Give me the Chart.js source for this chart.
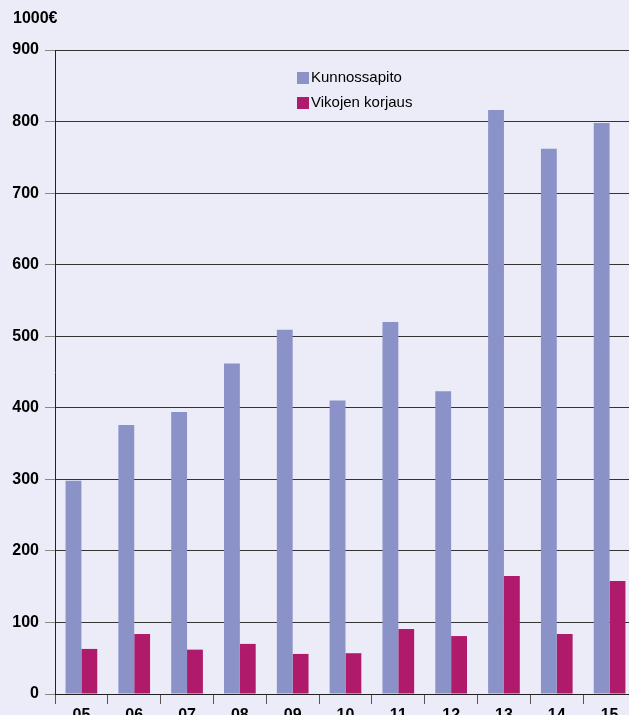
<!DOCTYPE html>
<html>
<head>
<meta charset="utf-8">
<script src="https://cdn.jsdelivr.net/npm/chart.js@4"></script>
<style>
  html, body { margin: 0; padding: 0; overflow: hidden; background: #ECECF8; }
  #wrap { width: 640px; height: 715px; }
</style>
</head>
<body>
<div id="wrap"><canvas id="chart" width="640" height="715"></canvas></div>
<script>
const years = ['05', '06', '07', '08', '09', '10', '11', '12', '13', '14', '15'];
const kunnossapito = [298, 376, 394, 462, 509, 410, 520, 423, 816, 762, 798];
const vikojenKorjaus = [63, 84, 62, 70, 56, 57, 91, 81, 165, 84, 158];
const yTicks = [0, 100, 200, 300, 400, 500, 600, 700, 800, 900];
const unitLabel = '1000€';

const font = 'Liberation Sans, Arial, sans-serif';

const bgPlugin = {
    id: 'bg',
    beforeDraw(chart) {
        const ctx = chart.ctx;
        ctx.save();
        ctx.fillStyle = '#ECECF8';
        ctx.fillRect(0, 0, chart.width, chart.height);
        ctx.restore();
    }
};

// unit label and vertical legend inside the plot
const extrasPlugin = {
    id: 'extras',
    afterDraw(chart) {
        const ctx = chart.ctx;
        ctx.save();
        ctx.fillStyle = '#000';
        ctx.font = 'bold 16px ' + font;
        ctx.textBaseline = 'middle';
        ctx.textAlign = 'left';
        ctx.fillText(unitLabel, 13, 19);

        ctx.font = '15px ' + font;
        chart.data.datasets.forEach((ds, i) => {
            const y = 72 + i * 25;
            ctx.fillStyle = ds.backgroundColor;
            ctx.fillRect(297, y, 12, 12);
            ctx.fillStyle = '#000';
            ctx.fillText(ds.label, 311, y + 6);
        });
        ctx.restore();
    }
};

new Chart(document.getElementById('chart'), {
    type: 'bar',
    data: {
        labels: years,
        datasets: [{
            label: 'Kunnossapito',
            data: kunnossapito,
            backgroundColor: '#8A92C8',
            categoryPercentage: 0.6,
            barPercentage: 1.0
        }, {
            label: 'Vikojen korjaus',
            data: vikojenKorjaus,
            backgroundColor: '#B01A6B',
            categoryPercentage: 0.6,
            barPercentage: 1.0
        }]
    },
    options: {
        responsive: false,
        animation: false,
        layout: { padding: { top: 50, right: 4, left: 0, bottom: 0 } },
        plugins: {
            legend: { display: false },
            tooltip: { enabled: false }
        },
        scales: {
            x: {
                afterFit(scale) { scale.height = 21; },
                grid: {
                    drawOnChartArea: false,
                    drawTicks: true,
                    tickLength: 10,
                    tickColor: '#555'
                },
                border: { display: true, color: '#222', width: 1 },
                ticks: {
                    color: '#000',
                    padding: 2,
                    font: { family: font, size: 16, weight: 'bold' }
                }
            },
            y: {
                min: 0,
                max: 900,
                afterFit(scale) { scale.width = 55; },
                afterBuildTicks(scale) { scale.ticks = yTicks.map(v => ({ value: v })); },
                grid: {
                    color: '#333',
                    lineWidth: 1,
                    tickLength: 10,
                    tickColor: '#888'
                },
                border: { display: true, color: '#222', width: 1 },
                ticks: {
                    color: '#000',
                    padding: 6,
                    font: { family: font, size: 16, weight: 'bold' }
                }
            }
        }
    },
    plugins: [bgPlugin, extrasPlugin]
});
</script>
</body>
</html>
